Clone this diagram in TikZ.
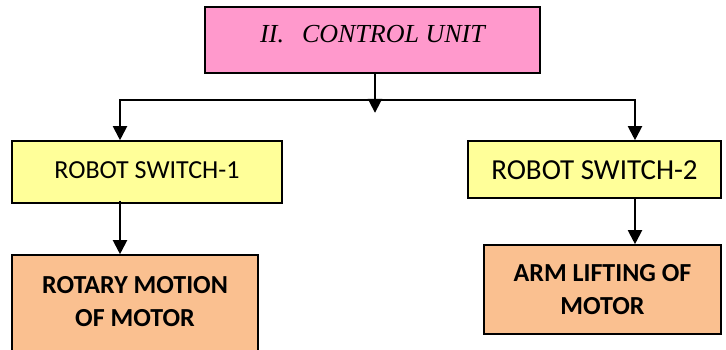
\documentclass[tikz,border=0pt]{standalone}
\usepackage{fontspec}
\setmainfont{Liberation Serif}
\newfontfamily\calibri{Carlito}
\usetikzlibrary{arrows.meta}
\definecolor{pinkbox}{HTML}{FF99CC}
\definecolor{yellowbox}{HTML}{FFFF99}
\definecolor{peachbox}{HTML}{FAC090}
\tikzset{
  box/.style={draw=black, line width=1.6pt, inner sep=0pt, align=center},
  arr/.style={line width=2pt, -{Triangle[length=14pt,width=14pt]}},
  plain/.style={line width=2pt}
}
\begin{document}
\begin{tikzpicture}[x=1pt,y=-1pt]
\useasboundingbox (0,0) rectangle (726,349);
\node[box, fill=pinkbox, minimum width=335pt, minimum height=66pt,
      text height=17pt, text depth=13pt,
      font=\fontsize{26}{30}\selectfont\itshape] (top) at (372.5,40) {II.\hspace{18pt}CONTROL UNIT};
\node[box, fill=yellowbox, minimum width=270pt, minimum height=62pt,
      text height=17pt, text depth=5pt,
      font=\calibri\fontsize{26}{30}\selectfont] (sw1) at (147,172) {ROBOT SWITCH-1};
\node[box, fill=yellowbox, minimum width=253pt, minimum height=57pt,
      text height=19pt, text depth=0pt,
      font=\calibri\fontsize{29}{33}\selectfont] (sw2) at (594.5,169.5) {ROBOT SWITCH-2};
\node[box, fill=peachbox, minimum width=246pt, minimum height=110pt,
      font=\calibri\bfseries\fontsize{26}{33}\selectfont] (rot) at (135,310) {};
\node[box, fill=peachbox, minimum width=237pt, minimum height=89pt,
      font=\calibri\bfseries\fontsize{26}{33}\selectfont] (arm) at (602.5,289.5) {ARM LIFTING OF\\MOTOR};
\node[font=\calibri\bfseries\fontsize{26}{33}\selectfont, align=center, inner sep=0pt, anchor=north]
  (rottext) at (135,276) {ROTARY MOTION\\OF MOTOR};
\coordinate (jl) at (120,100);
\coordinate (jr) at (635,100);
\draw[plain] (jl) -- (jr);
\draw[arr] ([xshift=2.5pt]top.south) -- ++(0,39);
\draw[arr] ([yshift=1pt]jl) -- (jl |- sw1.north);
\draw[arr] ([yshift=1pt]jr) -- (jr |- sw2.north);
\draw[arr] ([yshift=3pt]jl |- sw1.south) -- (jl |- rot.north);
\draw[arr] (jr |- sw2.south) -- (jr |- arm.north);
\end{tikzpicture}
\end{document}
